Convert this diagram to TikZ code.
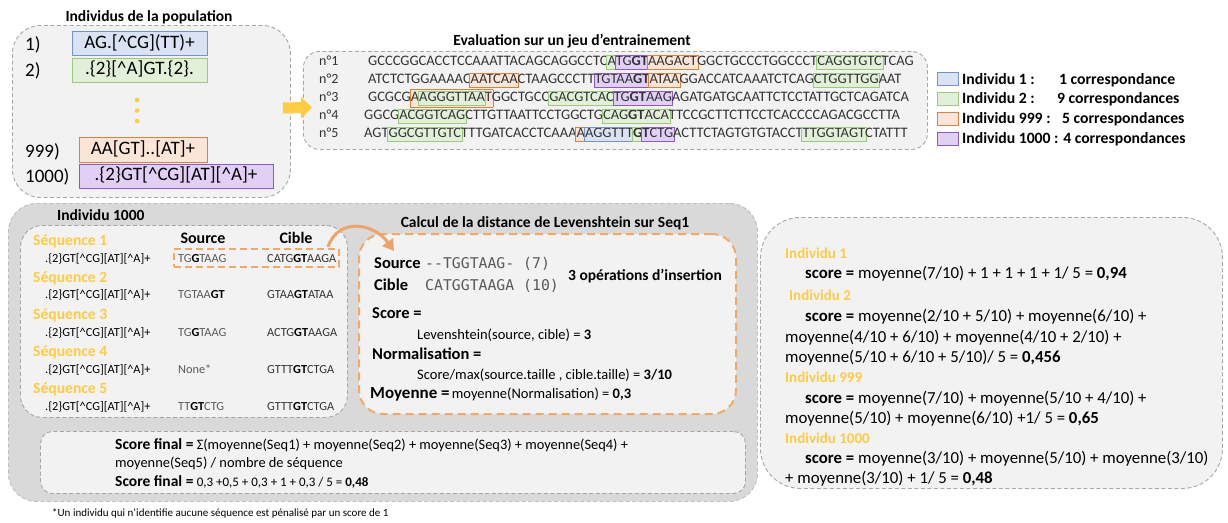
\documentclass[tikz,border=0pt]{standalone}
\usepackage{fontspec}
\setmainfont{Carlito}
\newfontfamily\monof{DejaVu Sans Mono}
\usetikzlibrary{arrows.meta,calc}
\definecolor{bgl}{HTML}{F2F2F2}
\definecolor{bgd}{HTML}{D9D9D9}
\definecolor{dashg}{HTML}{A6A6A6}
\definecolor{dashl}{HTML}{BFBFBF}
\definecolor{ylw}{HTML}{FFCB40}
\definecolor{org}{HTML}{F0AA66}
\definecolor{orgA}{HTML}{ECA46A}
\definecolor{bluF}{HTML}{DAE3F3}\definecolor{bluD}{HTML}{7592CB}
\definecolor{grnF}{HTML}{E2F0D9}\definecolor{grnD}{HTML}{9CC97F}
\definecolor{orgF}{HTML}{FBE5D6}\definecolor{orgD}{HTML}{D9823F}
\definecolor{purF}{HTML}{E1CFF6}\definecolor{purD}{HTML}{8A5CC2}
\definecolor{gtxt}{HTML}{595959}
\definecolor{seqc}{HTML}{333333}
\newcommand\fs[1]{\fontsize{#1}{#1}\selectfont}
\newcommand\ca{\textasciicircum}
\newcommand\hl[3]{{\setlength\fboxsep{0.6pt}\setlength\fboxrule{0.7pt}\kern-1.3pt\fcolorbox{#1}{#2}{\rule[-3pt]{0pt}{13pt}#3}\kern-1.3pt}}
\newcommand\HB[1]{\hl{bluD}{bluF}{#1}}
\newcommand\HG[1]{\hl{grnD}{grnF}{#1}}
\newcommand\HO[1]{\hl{orgD}{orgF}{#1}}
\newcommand\HP[1]{\hl{purD}{purF}{#1}}
\newcommand\rx{.\{2\}GT[\ca CG][AT][\ca A]+}
\tikzset{
  panel/.style={draw=dashg, dash pattern=on 4pt off 2.5pt, line width=0.9pt, fill=bgl, inner sep=0pt, anchor=north west},
  hd/.style={font=\fs{15.5}\bfseries, inner sep=0pt, anchor=base},
  yl/.style={font=\fs{15.6}\bfseries, text=ylw, inner sep=0pt, anchor=base west},
  tx/.style={inner sep=0pt, anchor=base west},
  pbox/.style={minimum height=24pt, text height=13pt, text depth=4pt, inner xsep=3pt, font=\fs{19}, line width=0.8pt},
  plab/.style={inner sep=0pt, anchor=base west, font=\fs{19}},
  seqrow/.style={inner sep=0pt, anchor=base west, font=\fs{14.5}, text=seqc},
  nlab/.style={inner sep=0pt, anchor=base west, font=\fs{14}, text=seqc},
  lgbox/.style={minimum width=21pt, minimum height=13pt, inner sep=0pt, line width=1pt},
  lgt/.style={font=\fs{15.7}\bfseries, inner sep=0pt, anchor=base west},
  ttab/.style={inner sep=0pt, anchor=base west, font=\fs{12.3}},
  rt/.style={inner sep=0pt, anchor=base west, font=\fs{16.8}},
  lt/.style={inner sep=0pt, anchor=base west, font=\fs{14.5}},
  lb/.style={inner sep=0pt, anchor=base west, font=\fs{16.5}\bfseries},
  st/.style={inner sep=0pt, anchor=base west, font=\fs{14.4}},
  yarrow/.style={draw=ylw, line width=11pt, -{Triangle[length=11pt,width=21pt]}},
  oarrow/.style={draw=orgA, line width=3pt, -{Triangle[length=11pt,width=13pt]}},
}
\begin{document}
\begin{tikzpicture}[x=1pt,y=-1pt]
\useasboundingbox (0,0) rectangle (1228,522);
% ---------- population ----------
\node[hd] (popT) at (149,21) {Individus de la population};
\node[panel, rounded corners=28pt, minimum width=278pt, minimum height=172pt] (pop) at (12,25) {};
\node[plab] (l1) at (25,50) {1)};
\node[plab] (l2) at (25,76) {2)};
\node[plab] (l999) at (25,157) {999)};
\node[plab] (l1000) at (25,182) {1000)};
\node[pbox, fill=bluF, draw=bluD, minimum width=135pt] (p1) at (139.5,43.5) {AG.[\ca CG](TT)+};
\node[pbox, fill=grnF, draw=grnD, minimum width=135pt] (p2) at (139.5,70) {.\{2\}[\ca A]GT.\{2\}.};
\node[pbox, fill=orgF, draw=orgD, minimum width=128pt, minimum height=25pt] (p999) at (143,150) {AA[GT]..[AT]+};
\node[pbox, fill=purF, draw=purD, minimum width=194pt] (p1000) at (176,176) {\rx};
\fill[ylw] (137,100) circle (2.3) (137,110.5) circle (2.3) (137,121) circle (2.3);
% ---------- evaluation ----------
\node[hd] (evT) at (572,45) {Evaluation sur un jeu d'entrainement};
\node[panel, rounded corners=16pt, minimum width=624pt, minimum height=98pt] (seq) at (303,51) {};
\draw[yarrow] ($(pop.east)+(-8,-3.5)$) -- ($(seq.west)+(9,7)$);
\node[nlab] (n1) at (319,65.8) {n°1};
\node[nlab] (n2) at (319,83.8) {n°2};
\node[nlab] (n3) at (319,101.8) {n°3};
\node[nlab] (n4) at (319,119.8) {n°4};
\node[nlab] (n5) at (319,137.8) {n°5};
\node[seqrow] (s1) at (368,65.8) {GCCCGGCACCTCCAAATTACAGCAGGCCTC\HG{A}\HP{TG\textbf{GT}}\HO{AAGACT}GGCTGCCCTGGCCCT\HG{CAGGTGTC}TCAG};
\node[seqrow] (s2) at (368,83.8) {ATCTCTGGAAAAC\HO{AATCAA}CTAAGCCCTT\HP{TGTAA\textbf{GT}}\HO{ATAA}GGACCATCAAATCTCAG\HG{CTGGTTGG}AAT};
\node[seqrow] (s3) at (368,101.8) {GCGCG\HO{A\HG{AGGGTTAA}T}GGCTGCC\HG{GACGTCAC}\HP{TG\textbf{GT}AAG}AGATGATGCAATTCTCCTATTGCTCAGATCA};
\node[seqrow] (s4) at (364,119.8) {GGCG\HG{ACGGTCAG}CTTGTTAATTCCTGGCTG\HG{CAG\textbf{GT}ACA}TTCCGCTTCTTCCTCACCCCAGACGCCTTA};
\node[seqrow] (s5) at (364,137.8) {AGT\HG{GGCGTTGTC}TTTGATCACCTCAAA\HO{A}\HB{AGGTTT}\HG{\textbf{G}}\HP{\textbf{T}CTG}ACTTCTAGTGTGTACCT\HG{TTGGTAGT}CTATTT};
% legend
\node[lgbox, fill=bluF, draw=bluD] (g1) at (947.5,79) {};
\node[lgbox, fill=grnF, draw=grnD] (g2) at (947.5,98.5) {};
\node[lgbox, fill=orgF, draw=orgD] (g3) at (947.5,118.5) {};
\node[lgbox, fill=purF, draw=purD] (g4) at (947.5,138.5) {};
\node[lgt] (g1t) at (962,84.3) {Individu 1 :};
\node[lgt] (g1c) at (1059,84.3) {1 correspondance};
\node[lgt] (g2t) at (962,103.8) {Individu 2 :};
\node[lgt] (g2c) at (1057,103.8) {9 correspondances};
\node[lgt] (g3t) at (962,123.8) {Individu 999 :};
\node[lgt] (g3c) at (1062,123.8) {5 correspondances};
\node[lgt] (g4t) at (962,143.8) {Individu 1000 : 4 correspondances};
% ---------- individu 1000 ----------
\node[panel, draw=dashl, fill=bgd, rounded corners=28pt, minimum width=749pt, minimum height=298pt] (big) at (8,203) {};
\node[hd, anchor=base west] (bigT) at (57,220) {Individu 1000};
\node[panel, rounded corners=22pt, minimum width=327pt, minimum height=192pt] (tab) at (20,225) {};
\node[hd, font=\fs{16}\bfseries] (hS) at (203,243.5) {Source};
\node[hd, font=\fs{16}\bfseries] (hC) at (296,243.5) {Cible};
\node[yl] (q1) at (33,245.5) {Séquence 1};
\node[yl] (q2) at (33,282.5) {Séquence 2};
\node[yl] (q3) at (33,319) {Séquence 3};
\node[yl] (q4) at (33,356) {Séquence 4};
\node[yl] (q5) at (33,393) {Séquence 5};
\node[ttab] (f1) at (45,262) {\rx};
\node[ttab] (f2) at (45,298.5) {\rx};
\node[ttab] (f3) at (45,336) {\rx};
\node[ttab] (f4) at (45,373) {\rx};
\node[ttab] (f5) at (45,410.5) {\rx};
\node[ttab, text=gtxt] (a1) at (178,262) {TG\textbf{\color{black}G}TAAG};
\node[ttab, text=gtxt] (a2) at (178,298.5) {TGTAA\textbf{\color{black}GT}};
\node[ttab, text=gtxt] (a3) at (178,336) {TG\textbf{\color{black}G}TAAG};
\node[ttab, text=gtxt] (a4) at (178,373) {None*};
\node[ttab, text=gtxt] (a5) at (178,410.5) {TT\textbf{\color{black}GT}CTG};
\node[ttab, text=seqc] (b1) at (267,262) {CATG\textbf{\color{black}GT}AAGA};
\node[ttab, text=seqc] (b2) at (267,298.5) {GTAA\textbf{\color{black}GT}ATAA};
\node[ttab, text=seqc] (b3) at (267,336) {ACTG\textbf{\color{black}GT}AAGA};
\node[ttab, text=seqc] (b4) at (267,373) {GTTT\textbf{\color{black}GT}CTGA};
\node[ttab, text=seqc] (b5) at (267,410.5) {GTTT\textbf{\color{black}GT}CTGA};
\node[draw=org, dash pattern=on 7pt off 4pt, line width=2pt, minimum width=165pt, minimum height=18pt, anchor=north west, inner sep=0pt] (sel) at (173,248) {};
% ---------- levenshtein ----------
\node[hd] (levT) at (545,227) {Calcul de la distance de Levenshtein sur Seq1};
\node[panel, draw=org, line width=2pt, dash pattern=on 8pt off 5pt, rounded corners=24pt, minimum width=377pt, minimum height=180pt] (lev) at (358,233) {};
\draw[oarrow] ($(sel.north east)+(-12,-1)$) .. controls +(10,-30) and +(-20,-28) .. ($(lev.north west)+(36,18)$);
\node[lb] (vS) at (374,268.3) {Source};
\node[lb] (vC) at (374,290.3) {Cible};
\node[tx, font=\fs{14.8}\monof, text=gtxt] (mS) at (425,268) {--TGGTAAG- (7)};
\node[tx, font=\fs{14.8}\monof, text=gtxt] (mC) at (425,290) {CATGGTAAGA (10)};
\node[tx, font=\fs{15.5}\bfseries] (ins) at (568,280) {3 opérations d’insertion};
\node[lb] (vSc) at (372,318.5) {Score =};
\node[lt] (vL) at (417,339.5) {Levenshtein(source, cible) = \textbf{3}};
\node[lb] (vN) at (372,359) {Normalisation =};
\node[lt] (vNf) at (417,379) {Score/max(source.taille , cible.taille) = \textbf{3/10}};
\node[tx] (vM) at (370,398.5) {{\fs{17}\bfseries Moyenne =} {\fs{14.5}moyenne(Normalisation) = \textbf{0,3}}};
% ---------- score final ----------
\node[panel, rounded corners=12pt, minimum width=705pt, minimum height=62pt] (fin) at (40,431) {};
\node[st] (fin1) at (115,449.5) {{\fs{15.5}\bfseries Score final =} Σ(moyenne(Seq1) + moyenne(Seq2) + moyenne(Seq3) + moyenne(Seq4) +};
\node[st] (fin2) at (115,467.5) {moyenne(Seq5) / nombre de séquence};
\node[st] (fin3) at (115,486.5) {{\fs{15.5}\bfseries Score final =} {\fs{13}0,3 +0,5 + 0,3 + 1 + 0,3 / 5 = \textbf{0,48}}};
\node[tx, font=\fs{11}] (foot) at (52,516) {*Un individu qui n’identifie aucune séquence est pénalisé par un score de 1};
% ---------- right panel ----------
\node[panel, rounded corners=40pt, minimum width=462pt, minimum height=271pt] (res) at (760,217) {};
\node[yl, font=\fs{15}\bfseries] (r1h) at (785,258) {Individu 1};
\node[rt] (r1a) at (805,278.5) {\textbf{score =} moyenne(7/10) + 1 + 1 + 1 + 1/ 5 = \textbf{0,94}};
\node[yl, font=\fs{15}\bfseries] (r2h) at (789,300) {Individu 2};
\node[rt] (r2a) at (805,321.5) {\textbf{score =} moyenne(2/10 + 5/10) + moyenne(6/10) +};
\node[rt] (r2b) at (785,342.5) {moyenne(4/10 + 6/10) + moyenne(4/10 + 2/10) +};
\node[rt] (r2c) at (785,362.5) {moyenne(5/10 + 6/10 + 5/10)/ 5 = \textbf{0,456}};
\node[yl, font=\fs{15}\bfseries] (r3h) at (785,382) {Individu 999};
\node[rt] (r3a) at (805,403.5) {\textbf{score =} moyenne(7/10) + moyenne(5/10 + 4/10) +};
\node[rt] (r3b) at (785,423.5) {moyenne(5/10) + moyenne(6/10) +1/ 5 = \textbf{0,65}};
\node[yl, font=\fs{15}\bfseries] (r4h) at (785,443) {Individu 1000};
\node[rt] (r4a) at (805,463.5) {\textbf{score =} moyenne(3/10) + moyenne(5/10) + moyenne(3/10)};
\node[rt] (r4b) at (785,483.5) {+ moyenne(3/10) + 1/ 5 = \textbf{0,48}};
\end{tikzpicture}
\end{document}
